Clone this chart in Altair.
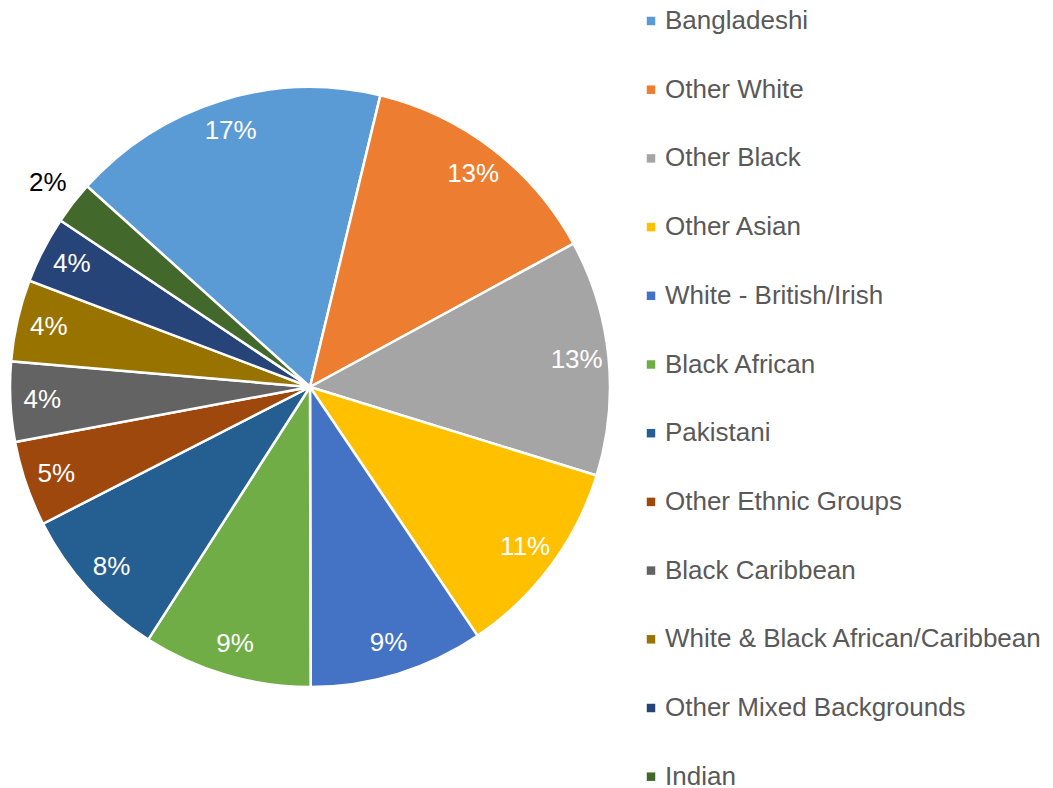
import math
import altair as alt
import pandas as pd

categories = [
    "Bangladeshi", "Other White", "Other Black", "Other Asian",
    "White - British/Irish", "Black African", "Pakistani",
    "Other Ethnic Groups", "Black Caribbean",
    "White & Black African/Caribbean", "Other Mixed Backgrounds", "Indian",
]
values = [17.1, 13.3, 12.7, 10.8, 9.4, 9.1, 8.4, 4.6, 4.3, 4.4, 3.6, 2.3]
labels = ["17%", "13%", "13%", "11%", "9%", "9%", "8%", "5%", "4%", "4%", "4%", "2%"]
colors = [
    "#5B9BD5", "#ED7D31", "#A5A5A5", "#FFC000", "#4472C4", "#70AD47",
    "#255E91", "#9E480E", "#636363", "#997300", "#264478", "#43682B",
]

df = pd.DataFrame({
    "cat": categories,
    "value": values,
    "label": labels,
    "idx": list(range(len(categories))),
})

start = -48.0 * math.pi / 180.0
theta_scale = alt.Scale(range=[start, start + 2 * math.pi])
FONT = "Liberation Sans"

CX, CY, R = 302, 379, 300

base = alt.Chart(df)

pie = base.mark_arc(
    outerRadius=R, stroke="white", strokeWidth=2.5, x=CX, y=CY
).encode(
    theta=alt.Theta("value:Q", stack=True, scale=theta_scale),
    order=alt.Order("idx:Q"),
    color=alt.Color(
        "cat:N",
        scale=alt.Scale(domain=categories, range=colors),
        sort=categories,
        legend=alt.Legend(
            title=None,
            orient="none",
            legendX=630,
            legendY=0,
            symbolType="square",
            symbolSize=72,
            symbolStrokeWidth=0,
            labelFontSize=26,
            labelFont=FONT,
            labelColor="#595959",
            labelOffset=1,
            labelLimit=600,
            rowPadding=42.7,
            padding=0,
        ),
    ),
)

inner_text = base.mark_text(
    radius=268, x=CX, y=CY, fontSize=26, font=FONT, color="white",
    align="center", baseline="middle",
).encode(
    theta=alt.Theta("value:Q", stack=True, scale=theta_scale),
    order=alt.Order("idx:Q"),
    text=alt.condition("datum.cat == 'Indian'", alt.value(""), alt.Text("label:N")),
)

outer_text = base.mark_text(
    radius=332, x=CX, y=CY, fontSize=26, font=FONT, color="black",
    align="center", baseline="middle",
).encode(
    theta=alt.Theta("value:Q", stack=True, scale=theta_scale),
    order=alt.Order("idx:Q"),
    text=alt.condition("datum.cat == 'Indian'", alt.Text("label:N"), alt.value("")),
)

chart = alt.layer(pie, inner_text, outer_text).properties(
    width=1037, height=780,
    autosize=alt.AutoSizeParams(type="none"),
    padding=0,
).configure_view(stroke=None)

chart.save("out.html", embed_options={"renderer": "svg", "actions": False})
